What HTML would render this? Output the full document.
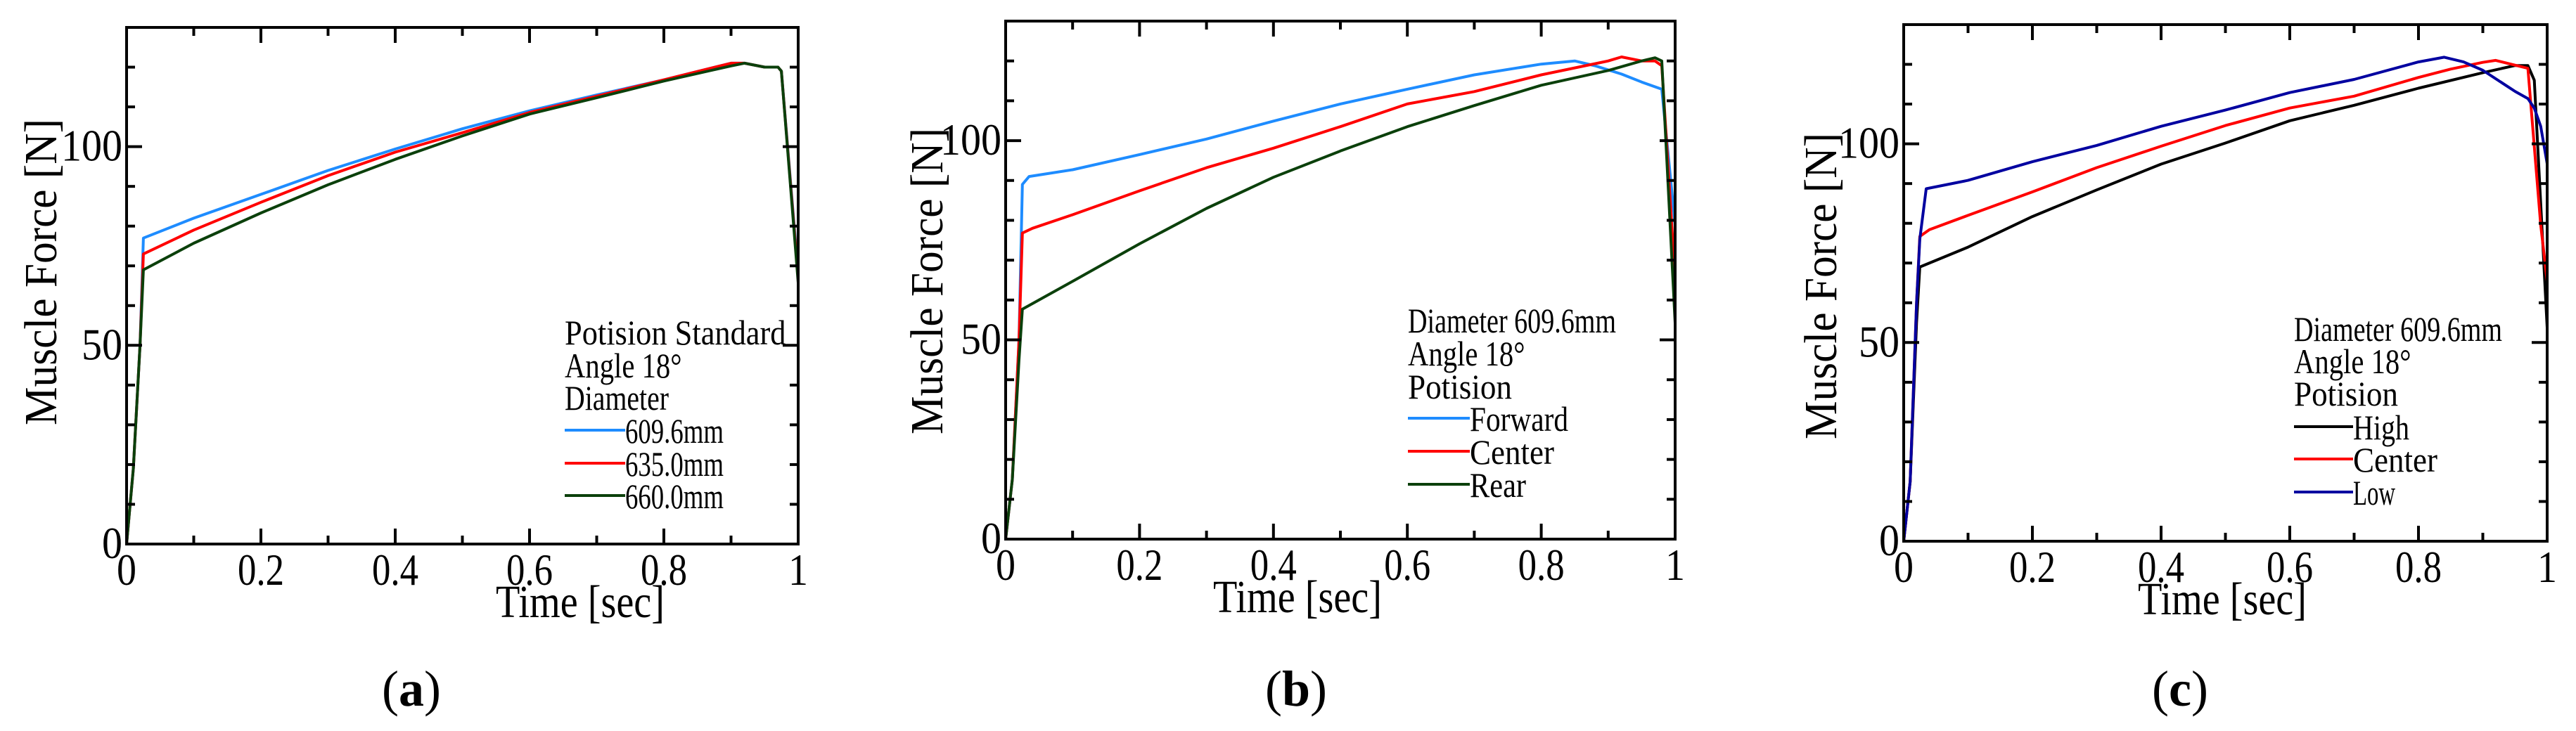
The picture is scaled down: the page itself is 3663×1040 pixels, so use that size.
<!DOCTYPE html>
<html><head><meta charset="utf-8">
<style>
html,body{margin:0;padding:0;background:#fff;}
svg{display:block;}
text{font-family:"Liberation Serif",serif;fill:#000;}
</style></head>
<body>
<svg id="fig" width="3663" height="1040" viewBox="0 0 3663 1040" xmlns="http://www.w3.org/2000/svg"></svg>
<script>
// ---- shared tick data ----
const xTicks = [0, 0.2, 0.4, 0.6, 0.8, 1];
const xTickLabels = ["0", "0.2", "0.4", "0.6", "0.8", "1"];
const yTicks = [0, 50, 100];
const yTickLabels = ["0", "50", "100"];

// ---- panel (a) data ----
const tA = [0, 0.01, 0.02, 0.025, 0.1, 0.2, 0.3, 0.4, 0.5, 0.6, 0.7, 0.8, 0.9, 0.92, 0.95, 0.97, 0.975, 1.0];
const a609 = [0, 19, 50, 77, 82, 88, 94, 99.4, 104.5, 109, 113, 116.8, 121, 121, 120, 120, 119, 68];
const a635 = [0, 19, 50, 73, 79, 86, 92.7, 98.6, 103.5, 108.6, 112.7, 116.8, 121, 121, 120, 120, 119, 67];
const a660 = [0, 19, 50, 69, 75.7, 83.3, 90.4, 96.8, 102.7, 108.2, 112.3, 116.5, 120.3, 121, 120, 120, 119, 65.7];

// ---- panel (b) data ----
const tBf = [0, 0.01, 0.02, 0.025, 0.035, 0.1, 0.2, 0.3, 0.4, 0.5, 0.6, 0.7, 0.8, 0.85, 0.88, 0.92, 0.95, 0.98, 1.0];
const bForward = [0, 15, 50, 89, 91, 92.7, 96.5, 100.4, 104.9, 109.2, 112.9, 116.5, 119.2, 120, 118.8, 116.7, 114.7, 112.9, 78.8];
const tBc = [0, 0.01, 0.02, 0.025, 0.04, 0.1, 0.2, 0.3, 0.4, 0.5, 0.6, 0.7, 0.8, 0.9, 0.92, 0.95, 0.97, 0.98, 1.0];
const bCenter = [0, 15, 50, 76.8, 78, 81.4, 87.4, 93.2, 98.1, 103.5, 109.2, 112.3, 116.5, 120, 121, 120, 120, 118.8, 65.3];
const tBr = [0, 0.01, 0.02, 0.025, 0.1, 0.2, 0.3, 0.4, 0.5, 0.6, 0.7, 0.8, 0.9, 0.95, 0.97, 0.98, 1.0];
const bRear = [0, 15, 45, 57.7, 64.7, 74.1, 83, 90.8, 97.4, 103.5, 108.8, 113.9, 117.6, 120, 120.8, 120, 54.2];

// ---- panel (c) data ----
const tCh = [0, 0.01, 0.02, 0.025, 0.1, 0.2, 0.3, 0.4, 0.5, 0.6, 0.7, 0.8, 0.9, 0.95, 0.97, 0.98, 1.0];
const cHigh = [0, 15, 55, 69, 74, 81.7, 88.4, 94.9, 100.2, 105.8, 109.7, 114, 117.9, 119.7, 119.7, 116, 53.7];
const tCc = [0, 0.01, 0.02, 0.025, 0.04, 0.1, 0.2, 0.3, 0.4, 0.5, 0.6, 0.7, 0.8, 0.85, 0.9, 0.92, 0.95, 0.97, 0.99, 1.0];
const cCenter = [0, 15, 60, 76.7, 78.4, 82, 87.9, 94, 99.4, 104.6, 109, 112, 116.7, 118.8, 120.5, 121, 119.8, 119, 79.6, 65.4];
const tCl = [0, 0.01, 0.02, 0.025, 0.035, 0.1, 0.2, 0.3, 0.4, 0.5, 0.6, 0.7, 0.8, 0.84, 0.87, 0.9, 0.95, 0.97, 0.98, 0.99, 1.0];
const cLow = [0, 15, 60, 76, 88.7, 90.8, 95.5, 99.6, 104.4, 108.5, 112.9, 116.2, 120.6, 121.8, 120.6, 118.5, 113.2, 111.4, 109, 104.4, 95];

const NS = "http://www.w3.org/2000/svg";
const svg = document.getElementById("fig");
function mk(tag, attrs, parent) {
  const e = document.createElementNS(NS, tag);
  for (const k in attrs) e.setAttribute(k, attrs[k]);
  (parent || svg).appendChild(e);
  return e;
}
function txt(parent, str, x, y, size, anchor, len) {
  const t = mk("text", {x: x, y: y, "font-size": size, "text-anchor": anchor || "start"}, parent);
  if (len) { t.setAttribute("textLength", len); t.setAttribute("lengthAdjust", "spacingAndGlyphs"); }
  t.textContent = str;
  return t;
}

const panels = [
  {id: "a", L: 180, R: 1135, T: 39, B: 774, ylab: [58, 387], xlab: 825, tag: [585, 1004], tagText: "a",
   leg: {x: 803, head: ["Potision Standard", "Angle 18\u00b0", "Diameter"], headY: [490, 537, 583], lineY: [612, 659, 705], lx2: 889},
   series: [
     {name: "609.6mm", t: tA, v: a609, c: "#1e8cff"},
     {name: "635.0mm", t: tA, v: a635, c: "#ff0000"},
     {name: "660.0mm", t: tA, v: a660, c: "#0b400b"}]},
  {id: "b", L: 1430, R: 2382, T: 30, B: 767, ylab: [1318, 400], xlab: 1845, tag: [1843, 1004], tagText: "b",
   leg: {x: 2002, head: ["Diameter 609.6mm", "Angle 18\u00b0", "Potision"], headY: [473, 520, 567], lineY: [595, 642, 689], lx2: 2090},
   series: [
     {name: "Forward", t: tBf, v: bForward, c: "#1e8cff"},
     {name: "Center", t: tBc, v: bCenter, c: "#ff0000"},
     {name: "Rear", t: tBr, v: bRear, c: "#0b400b"}]},
  {id: "c", L: 2707, R: 3622, T: 35, B: 770, ylab: [2589, 407], xlab: 3160, tag: [3100, 1004], tagText: "c",
   leg: {x: 3262, head: ["Diameter 609.6mm", "Angle 18\u00b0", "Potision"], headY: [485, 531, 577], lineY: [607, 653, 700], lx2: 3346},
   series: [
     {name: "High", t: tCh, v: cHigh, c: "#000000"},
     {name: "Center", t: tCc, v: cCenter, c: "#ff0000"},
     {name: "Low", t: tCl, v: cLow, c: "#0000a0"}]}
];

panels.forEach(p => {
  const g = mk("g", {});
  
  
  const xs = v => p.L + (p.R - p.L) * v;
  const ys = v => p.B - (p.B - p.T) * v / 130;

  // series
  p.series.forEach(s => {
    const pts = s.t.map((t, i) => xs(t).toFixed(1) + "," + ys(s.v[i]).toFixed(1)).join(" ");
    const pl = mk("polyline", {points: pts, fill: "none", stroke: s.c, "stroke-width": 4, "stroke-linejoin": "round"}, g);
    
    
  });

  // frame
  const fr = mk("rect", {x: p.L, y: p.T, width: p.R - p.L, height: p.B - p.T, fill: "none", stroke: "#000", "stroke-width": 4}, g);
  
  

  // ticks
  const tk = mk("g", {stroke: "#000", "stroke-width": 4}, g);
  
  
  for (let i = 1; i < 10; i++) {
    const len = (i % 2 === 0) ? 22 : 12;
    const x = xs(i / 10);
    mk("line", {x1: x, y1: p.B, x2: x, y2: p.B - len}, tk);
    mk("line", {x1: x, y1: p.T, x2: x, y2: p.T + len}, tk);
  }
  for (let v = 10; v < 130; v += 10) {
    const len = (v % 50 === 0) ? 22 : 12;
    const y = ys(v);
    mk("line", {x1: p.L, y1: y, x2: p.L + len, y2: y}, tk);
    mk("line", {x1: p.R, y1: y, x2: p.R - len, y2: y}, tk);
  }

  // tick labels
  xTicks.forEach((v, i) => {
    const l = txt(g, xTickLabels[i], xs(v), p.B + 58, 64, "middle", xTickLabels[i].length === 1 ? 28 : 66);
    
    
  });
  yTicks.forEach((v, i) => {
    const l = txt(g, yTickLabels[i], p.L - 6, ys(v) + 20, 64, "end", yTickLabels[i].length * 29);
    
    
  });

  // axis titles
  const xt = txt(g, "Time [sec]", p.xlab, p.B + 104, 66, "middle", 240);
  
  
  const yt = mk("text", {x: 0, y: 0, "font-size": 66, "text-anchor": "middle", transform: "translate(" + (p.ylab[0] + 22) + "," + p.ylab[1] + ") rotate(-90)", textLength: 436, lengthAdjust: "spacingAndGlyphs"}, g);
  yt.textContent = "Muscle Force [N]";
  
  

  // legend
  const lg = mk("g", {}, g);
  
  
  p.leg.head.forEach((h, i) => {
    const hl = txt(lg, h, p.leg.x, p.leg.headY[i], 50, "start", h.length * 18.5);
    
    
  });
  p.series.forEach((s, i) => {
    const ln = mk("line", {x1: p.leg.x, y1: p.leg.lineY[i], x2: p.leg.lx2, y2: p.leg.lineY[i], stroke: s.c, "stroke-width": 4}, lg);
    
    
    const lt = txt(lg, s.name, p.leg.lx2, p.leg.lineY[i] + 18, 50, "start", s.name.length * 20);
    
    
  });

  // panel tag
  const tg = mk("text", {x: p.tag[0], y: p.tag[1], "font-size": 72, "text-anchor": "middle"}, g);
  const s1 = mk("tspan", {}, tg); s1.textContent = "(";
  const s2 = mk("tspan", {"font-weight": "bold"}, tg); s2.textContent = p.tagText;
  const s3 = mk("tspan", {}, tg); s3.textContent = ")";
  
  
});
</script>
</body></html>
